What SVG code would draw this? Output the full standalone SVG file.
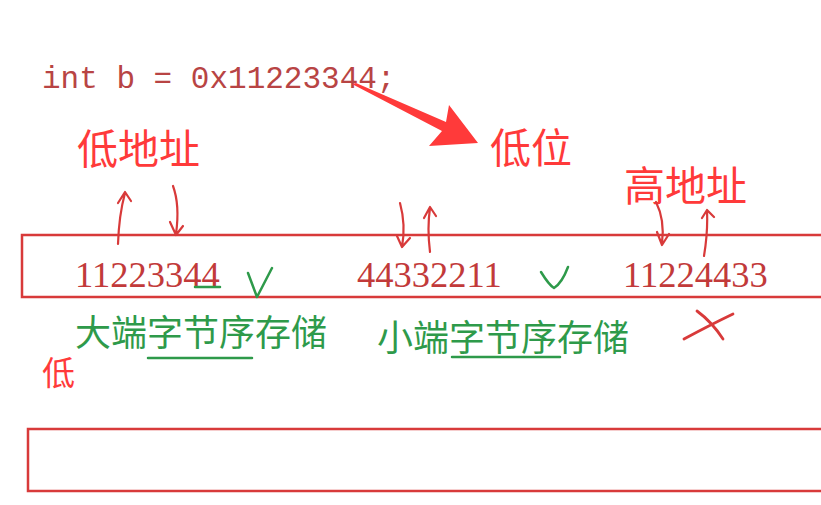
<svg xmlns="http://www.w3.org/2000/svg" width="821" height="505" viewBox="0 0 821 505">
<style>
.code{font-family:"Liberation Mono",monospace;font-size:31px;fill:#b84444}
.num{font-family:"Liberation Serif",serif;font-size:36.5px;fill:#c23a3a}
.lbl{font-family:"Noto Sans CJK SC",sans-serif;font-size:41px;fill:#ff3a3a}
.grn{font-family:"Noto Sans CJK SC",sans-serif;font-size:36px;fill:#2e9a4a}
.box{fill:none;stroke:#d83a3a;stroke-width:2.5}
.hand{fill:none;stroke:#d83a3a;stroke-width:2.2;stroke-linecap:round;stroke-linejoin:round}
.ghand{fill:none;stroke:#2e9a4a;stroke-width:2.5;stroke-linecap:round;stroke-linejoin:round}
</style>
<rect width="821" height="505" fill="#ffffff"/>
<g id="code"><text class="code" x="42" y="88">int b = 0x11223344;</text></g>
<g id="bigArrow"><polygon points="352,84 356,83 446,122 449,105 478,143 429,146 442,131" fill="#ff3a3a"/></g>
<g id="labelLowAddr"><text class="lbl" x="77" y="164">低地址</text></g>
<g id="labelLowBit"><text class="lbl" x="490" y="163">低位</text></g>
<g id="labelHighAddr"><text class="lbl" x="624" y="201">高地址</text></g>
<g id="box1"><rect class="box" x="22" y="235" width="810" height="62"/></g>
<g id="box2"><rect class="box" x="28" y="429" width="805" height="62"/></g>
<g id="bigEndian">
<text class="num" x="75" y="287">11223344</text>
<text class="grn" x="75" y="346">大端字节序存储</text>
</g>
<g id="littleEndian">
<text class="num" x="357" y="287">44332211</text>
<text class="grn" x="377" y="351">小端字节序存储</text>
</g>
<g id="wrong"><text class="num" x="623" y="287">11224433</text></g>
<g id="low"><text class="lbl" x="42" y="385" style="font-size:33px">低</text></g>
<g id="connectors">
<path class="hand" d="M118,244 Q119,215 125,193 M118,203 L125,192 L131,201"/>
<path class="hand" d="M173,186 Q180,205 176,234 M170,222 L176,235 L183,226"/>
<path class="hand" d="M400,203 Q406,225 402,247 M397,236 L402,247 L410,238"/>
<path class="hand" d="M430,252 Q427,228 430,208 M424,218 L430,207 L436,216"/>
<path class="hand" d="M656,202 Q665,220 662,243 M657,232 L662,245 L669,234"/>
<path class="hand" d="M704,256 Q708,232 707,211 M702,218 L707,210 L714,217"/>
<path class="hand" style="stroke-width:2.8" d="M684,339 Q710,325 733,314 M697,311 Q712,322 723,339"/>
<path class="ghand" d="M248,273 L257,297 L272,268"/>
<path class="ghand" d="M541,272 Q549,285 554,288 Q562,283 568,267"/>
<path class="ghand" d="M195,287 L220,287"/>
<path class="ghand" d="M148,358 L252,358"/>
<path class="ghand" d="M452,357 L560,357"/>
</g>
</svg>
